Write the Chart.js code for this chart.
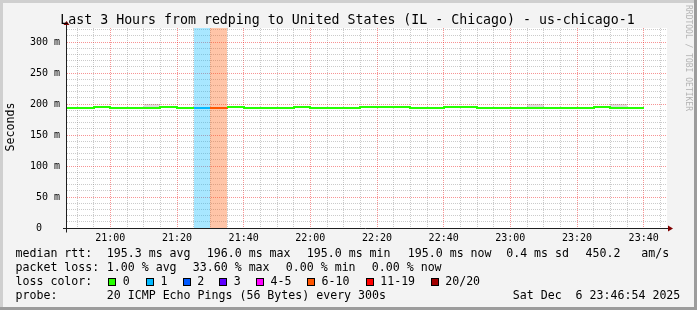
<!DOCTYPE html>
<html><head><meta charset="utf-8">
<script src="https://cdn.jsdelivr.net/npm/chart.js@4/dist/chart.umd.min.js"></script>
<style>
html,body{margin:0;padding:0;background:#f3f3f3;}
#wrap{position:relative;width:697px;height:310px;background:#f3f3f3;overflow:hidden;font-family:'DejaVu Sans Mono',monospace;color:#000;}
canvas{position:absolute;left:0;top:0;}
.t{position:absolute;white-space:pre;font-size:11.6px;line-height:11.6px;}
.box{position:absolute;width:8px;height:8px;box-sizing:border-box;border:1px solid #000;top:278px;}
.bd{position:absolute;}
</style></head>
<body><div id="wrap">
<canvas id="c" width="697" height="310"></canvas>
<div class="t" style="left:-1px;width:697px;text-align:center;top:12.8px;font-size:13.25px;line-height:13.25px;">Last 3 Hours from redping to United States (IL - Chicago) - us-chicago-1</div>
<div class="t" style="left:-40px;top:120px;width:100px;text-align:center;line-height:14px;transform:rotate(-90deg);">Seconds</div>
<div class="t" style="left:693px;top:5px;font-size:8px;line-height:9px;color:#b4b4b4;transform-origin:0 0;transform:rotate(90deg);">RRDTOOL / TOBI OETIKER</div>

<div class="t" style="left:15.5px;top:248.2px">median rtt:</div>
<div class="t" style="left:106.8px;top:248.2px">195.3 ms avg</div>
<div class="t" style="left:206.8px;top:248.2px">196.0 ms max</div>
<div class="t" style="left:306.8px;top:248.2px">195.0 ms min</div>
<div class="t" style="left:407.8px;top:248.2px">195.0 ms now</div>
<div class="t" style="left:506.2px;top:248.2px">0.4 ms sd</div>
<div class="t" style="left:585.5px;top:248.2px">450.2</div>
<div class="t" style="left:641.2px;top:248.2px">am/s</div>

<div class="t" style="left:15.5px;top:262.2px">packet loss:</div>
<div class="t" style="left:106.8px;top:262.2px">1.00 % avg</div>
<div class="t" style="left:192.8px;top:262.2px">33.60 % max</div>
<div class="t" style="left:285.8px;top:262.2px">0.00 % min</div>
<div class="t" style="left:371.8px;top:262.2px">0.00 % now</div>

<div class="t" style="left:15.5px;top:276.2px">loss color:</div>
<div id="lossLegend"></div>

<div class="t" style="left:15.5px;top:290.2px">probe:</div>
<div class="t" style="left:106.8px;top:290.2px">20 ICMP Echo Pings (56 Bytes) every 300s</div>
<div class="t" style="left:512.8px;top:290.2px">Sat Dec  6 23:46:54 2025</div>

<div class="bd" style="left:0;top:0;width:697px;height:3px;background:#cfcfcf"></div>
<div class="bd" style="left:0;top:0;width:3px;height:310px;background:#cfcfcf"></div>
<div class="bd" style="left:0;top:307px;width:697px;height:3px;background:#9c9c9c"></div>
<div class="bd" style="left:694px;top:0;width:3px;height:310px;background:#9c9c9c"></div>
</div>
<script>
// ---- data ----
const slotStarts = ['20:45','20:50','20:55','21:00','21:05','21:10','21:15','21:20','21:25','21:30',
  '21:35','21:40','21:45','21:50','21:55','22:00','22:05','22:10','22:15','22:20',
  '22:25','22:30','22:35','22:40','22:45','22:50','22:55','23:00','23:05','23:10',
  '23:15','23:20','23:25','23:30','23:35'];
const slotEnd = '23:40';
const medianRtt = [195,195,196,195,195,195,196,195,195,195,
  196,195,195,195,196,195,195,195,196,196,
  196,195,195,196,196,195,195,195,195,195,
  195,195,196,195,195];
const lossPings = [0,0,0,0,0,0,0,0,1,6.72,
  0,0,0,0,0,0,0,0,0,0,
  0,0,0,0,0,0,0,0,0,0,
  0,0,0,0,0];
const smokeTop = [null,null,null,null,null,200.5,null,null,null,null,
  null,null,null,null,null,null,null,null,null,null,
  null,null,null,null,null,null,null,null,200.5,null,
  null,null,null,200.5,null];
const lossLabels = ['0','1','2','3','4-5','6-10','11-19','20/20'];
const lossUpper  = [0,1,2,3,5,10,19,20];
const lossColors = ['#26ff00','#00b8ff','#0059ff','#5e00ff','#ff00ff','#ff5500','#ff0000','#a10000'];
const yTickStep = 10, yLabelStep = 50, xTickStep = 5, xLabelStep = 20;
const viewStart = '20:47', viewEnd = '23:47';
const yMax = 322.7;

// ---- helpers ----
const BASE = 21*60;
const toMin = s => { const [h,m] = s.split(':').map(Number); return h*60+m-BASE; };
const fmt = v => { const t = BASE+v; const h = Math.floor(t/60), m = t%60; return String(h).padStart(2,'0')+':'+String(m).padStart(2,'0'); };
const lossColor = n => { for (let i=0;i<lossUpper.length;i++) if (n<=lossUpper[i]) return lossColors[i]; return lossColors[lossColors.length-1]; };
const rgba = (hex,a) => { const n=parseInt(hex.slice(1),16); return `rgba(${n>>16},${(n>>8)&255},${n&255},${a})`; };

// legend boxes
const legendX = [108, 145.5, 182.5, 219, 256, 307, 365.5, 430.5];
const legendTX = [122.8, 160.5, 197.2, 233.8, 270.5, 321.5, 380.2, 445.2];
const ll = document.getElementById('lossLegend');
lossLabels.forEach((lab,i)=>{
  const b = document.createElement('div'); b.className='box'; b.style.left=legendX[i]+'px'; b.style.background=lossColors[i]; ll.appendChild(b);
  const t = document.createElement('div'); t.className='t'; t.style.left=legendTX[i]+'px'; t.style.top='276.2px'; t.textContent=lab; ll.appendChild(t);
});

const xs = slotStarts.map(toMin);
const xEnd = toMin(slotEnd);
const nextX = i => i+1<xs.length ? xs[i+1] : xEnd;

const datasets = [];
datasets.push({
  type:'line',
  data: xs.map((x,i)=>({x, y: medianRtt[i]})).concat([{x:xEnd, y: medianRtt[medianRtt.length-1]}]),
  stepped:'before', borderWidth:2, pointRadius:0, fill:false, clip:0,
  borderColor: lossColors[0], borderCapStyle:'butt', borderJoinStyle:'miter',
  segment:{ borderColor: ctx => lossColor(lossPings[ctx.p0DataIndex]) }
});
smokeTop.forEach((v,i)=>{
  if (v==null) return;
  datasets.push({type:'line', data:[{x:xs[i],y:v},{x:nextX(i),y:v}], fill:{value: medianRtt[i]},
    backgroundColor:'rgba(0,0,0,0.13)', borderWidth:0, pointRadius:0, clip:0});
});
lossPings.forEach((l,i)=>{
  if (l<=0) return;
  datasets.push({type:'line', data:[{x:xs[i],y:yMax},{x:nextX(i),y:yMax}], fill:'origin',
    backgroundColor: rgba(lossColor(l),0.34), borderWidth:0, pointRadius:0, clip:0});
});

const ticksEvery = step => s => { const t=[]; for (let v=Math.ceil(s.min/step)*step; v<=s.max+1e-9; v+=step) t.push({value:v}); s.ticks=t; };

const bgPlugin = {
  id:'bg',
  afterDatasetsUpdate(chart){
    // snap drawn points to whole pixels, like rrdtool does
    chart.data.datasets.forEach((ds,i)=>{
      chart.getDatasetMeta(i).data.forEach(p=>{ p.x = Math.round(p.x); p.y = Math.ceil(p.y - 0.01); });
    });
  },
  beforeDraw(chart){ const {ctx, chartArea:a} = chart; ctx.save(); ctx.fillStyle='#ffffff'; ctx.fillRect(a.left,a.top,a.right-a.left,a.bottom-a.top); ctx.restore(); },
  afterDatasetsDraw(chart){
    const {ctx, chartArea:a} = chart; const y0 = chart.scales.y.getPixelForValue(0);
    ctx.save();
    ctx.strokeStyle='#1e1e1e'; ctx.lineWidth=1;
    const yy = Math.round(y0)+0.5, xx = a.left-0.5;
    ctx.beginPath(); ctx.moveTo(a.left-4, yy); ctx.lineTo(a.right+1, yy); ctx.stroke();
    ctx.beginPath(); ctx.moveTo(xx, yy+4); ctx.lineTo(xx, a.top-3); ctx.stroke();
    ctx.fillStyle='#7f0000';
    ctx.beginPath(); ctx.moveTo(a.right+1, yy-3); ctx.lineTo(a.right+6, yy); ctx.lineTo(a.right+1, yy+3); ctx.closePath(); ctx.fill();
    ctx.beginPath(); ctx.moveTo(xx-3, a.top-3); ctx.lineTo(xx, a.top-7); ctx.lineTo(xx+3, a.top-3); ctx.closePath(); ctx.fill();
    ctx.restore();
  }
};

const gridRed = 'rgba(235,0,0,0.42)', gridGray = 'rgba(110,110,110,0.36)';
new Chart(document.getElementById('c'), {
  type:'line',
  data:{ datasets },
  plugins:[bgPlugin],
  options:{
    responsive:false, animation:false, devicePixelRatio:1,
    layout:{ padding:{ top:28, right:30, bottom:0, left:0 } },
    plugins:{ legend:{display:false}, tooltip:{enabled:false}, title:{display:false} },
    scales:{
      x:{ type:'linear', min: toMin(viewStart), max: toMin(viewEnd),
        afterFit(s){ s.height = 82; },
        afterBuildTicks: ticksEvery(xTickStep),
        ticks:{ autoSkip:false, maxRotation:0, minRotation:0, padding:4,
          color:'#000', font:{family:'DejaVu Sans Mono', size:10},
          callback: v => (v % xLabelStep === 0) ? fmt(v) : '' },
        grid:{ drawTicks:false, lineWidth:1, color: c => (c.tick && c.tick.value % xLabelStep === 0) ? gridRed : gridGray },
        border:{ display:false, dash:[1,1] }
      },
      y:{ type:'linear', min:0, max:yMax,
        afterFit(s){ s.width = 67; },
        afterBuildTicks: ticksEvery(yTickStep),
        ticks:{ autoSkip:false, padding:7,
          color:'#000', font:{family:'DejaVu Sans Mono', size:10},
          callback: v => (v % yLabelStep === 0) ? (v===0 ? '0   ' : v+' m') : '' },
        grid:{ drawTicks:false, lineWidth:1, color: c => (c.tick && c.tick.value === 0) ? 'rgba(0,0,0,0)' : (c.tick && c.tick.value % yLabelStep === 0) ? gridRed : gridGray },
        border:{ display:false, dash:[1,1] }
      }
    }
  }
});
</script>
</body></html>
